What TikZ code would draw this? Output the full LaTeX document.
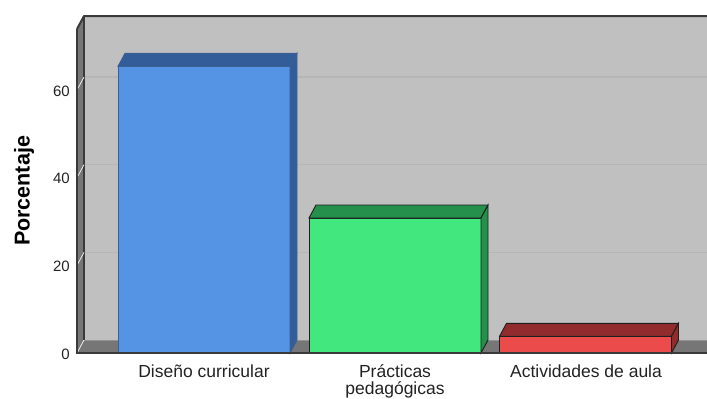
\documentclass[tikz,border=0pt]{standalone}
\usepackage{fontspec}
\setmainfont{Liberation Sans}
\usepackage{tikz}
\usetikzlibrary{positioning}

\definecolor{wall}{HTML}{C0C0C0}
\definecolor{side}{HTML}{767676}
\definecolor{edge}{HTML}{3A3A3A}
\definecolor{grid}{HTML}{B6B6B6}
\definecolor{blueF}{HTML}{5594E4}
\definecolor{blueD}{HTML}{335D99}
\definecolor{blueO}{HTML}{3B5E94}
\definecolor{greenF}{HTML}{42E87E}
\definecolor{greenD}{HTML}{25904B}
\definecolor{redF}{HTML}{EC4B4B}
\definecolor{redD}{HTML}{922C2C}
\definecolor{barO}{HTML}{1E1E1E}
\definecolor{txt}{HTML}{222222}

\tikzset{
  ticklab/.style={anchor=east, inner sep=0pt, text=txt, font=\fontsize{15}{15}\selectfont},
  catlab/.style={anchor=north, inner sep=0pt, text=txt, align=center, font=\fontsize{17.5}{16.5}\selectfont},
  axtitle/.style={rotate=90, inner sep=0pt, text=black, font=\fontsize{21.5}{21.5}\selectfont\bfseries}
}

\begin{document}
\begin{tikzpicture}[x=1pt, y=-1pt]
  \useasboundingbox (0,0) rectangle (707,399);
  % back wall and grid
  \fill[wall] (84,16) rectangle (707,340);
  \foreach \v in {20,40,60}
    \draw[grid, line width=1.5pt] (84,340-\v*4.383) -- (707,340-\v*4.383);
  % left wall and floor
  \fill[side] (77,29) -- (84,16) -- (84,340) -- (77,353) -- cycle;
  \fill[side] (77,353) -- (84,340) -- (707,340) -- (707,353) -- cycle;
  \draw[edge, line width=1.2pt] (84,16) -- (84,340);
  \draw[grid!80!black, line width=0.6pt] (84,340) -- (707,340);
  % ticks
  \foreach \v in {0,20,40,60}{
    \draw[white!85!gray, line width=0.8pt] (77,353-\v*4.383) -- (84,340-\v*4.383);
    \node[ticklab] (t\v) at (70,354-\v*4.383) {\v};
  }
  % bars
  \foreach \a/\v/\cf/\cd/\co in {118/65.4/blueF/blueD/blueO, 309/30.8/greenF/greenD/barO, 499.5/3.8/redF/redD/barO}{
    \pgfmathsetmacro\t{353-\v*4.383}
    \filldraw[fill=\cf, draw=\co, line width=0.9pt] (\a,353) rectangle (\a+172,\t);
    \filldraw[fill=\cd, draw=\co, line width=0.9pt] (\a,\t) -- (\a+7,\t-13) -- (\a+179,\t-13) -- (\a+172,\t) -- cycle;
    \filldraw[fill=\cd, draw=\co, line width=0.9pt] (\a+172,353) -- (\a+172,\t) -- (\a+179,\t-13) -- (\a+179,340) -- cycle;
  }
  % frame edges
  \draw[edge, line width=2pt, line join=round] (77,29) -- (84,16) -- (707,16);
  \draw[edge, line width=1.3pt] (77,29) -- (77,353) -- (707,353);
  % labels
  \node[axtitle] (ytitle) at (24,191) {Porcentaje};
  \node[catlab] (dc) at (204,364.5) {Diseño curricular};
  \node[catlab] (pp) at (395,364.5) {Prácticas\\pedagógicas};
  \node[catlab] (aa) at (586,364.5) {Actividades de aula};
\end{tikzpicture}
\end{document}
